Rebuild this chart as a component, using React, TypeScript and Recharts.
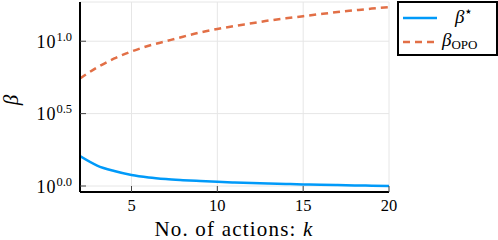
import React from "react";
import { LineChart, Line, XAxis, YAxis, CartesianGrid } from "recharts";

// number of actions k
const actions = [2, 3, 4, 5, 6, 7, 8, 9, 10, 11, 12, 13, 14, 15, 16, 17, 18, 19, 20];
// beta* (blue, solid)
const betaStar = [
  1.61, 1.385, 1.268, 1.19, 1.145, 1.117, 1.098, 1.082, 1.068, 1.057, 1.047,
  1.039, 1.032, 1.026, 1.02, 1.015, 1.01, 1.006, 1.002,
];
// beta_OPO (orange, dashed)
const betaOpo = [
  5.53, 6.6, 7.6, 8.5, 9.3, 10.0, 10.75, 11.5, 12.15, 12.75, 13.3, 13.9, 14.4,
  14.9, 15.4, 15.9, 16.35, 16.8, 17.2,
];
const xTicks = [5, 10, 15, 20];
const yTicks = [1, Math.pow(10, 0.5), 10];

const data = actions.map((k, i) => ({ k, star: betaStar[i], opo: betaOpo[i] }));

const FONT = "'Liberation Serif', 'DejaVu Serif', serif";
const BLUE = "#009af9";
const ORANGE = "#e26f46";

function YTick({ x, y, payload }: any) {
  const exp = Math.log10(payload.value).toFixed(1);
  return (
    <text x={x} y={y + 6.5} textAnchor="end" style={{ fontFamily: FONT, fontSize: 18 }} fill="#000">
      <tspan style={{ fontSize: 18, letterSpacing: 1 }}>10</tspan>
      <tspan style={{ fontSize: 12.5 }} dy={-7}>{exp}</tspan>
    </text>
  );
}

function XTick({ x, y, payload }: any) {
  return (
    <text x={x} y={y + 19} textAnchor="middle" style={{ fontFamily: FONT, fontSize: 16.5 }} fill="#000">
      {payload.value}
    </text>
  );
}

function XLabel() {
  return (
    <text
      x={234}
      y={236}
      textAnchor="middle"
      style={{ fontFamily: FONT, fontSize: 21, letterSpacing: 1.2 }}
      fill="#000"
    >
      No. of actions: <tspan fontStyle="italic">k</tspan>
    </text>
  );
}

function YLabel() {
  return (
    <text
      x={18}
      y={100}
      textAnchor="middle"
      style={{ fontFamily: FONT, fontSize: 21, fontStyle: "italic" }}
      fill="#000"
      transform="rotate(-90 18 100)"
    >
      β
    </text>
  );
}

function LegendBox() {
  return (
    <div
      style={{
        position: "absolute",
        left: 397,
        top: 1,
        width: 97,
        height: 51,
        border: "2px solid #000",
        background: "#fff",
      }}
    >
      <svg width={97} height={51} style={{ display: "block" }}>
        <line x1={4} x2={38} y1={15} y2={15} stroke={BLUE} strokeWidth={2.5} />
        <text x={56} y={20} style={{ fontFamily: FONT, fontSize: 19, fontStyle: "italic" }}>
          β<tspan style={{ fontSize: 14, fontStyle: "normal" }} dy={-7}>⋆</tspan>
        </text>
        <line x1={4} x2={38} y1={39} y2={39} stroke={ORANGE} strokeWidth={2.5} strokeDasharray="7 5" />
        <text x={43} y={43} style={{ fontFamily: FONT, fontSize: 19, fontStyle: "italic" }}>
          β
          <tspan style={{ fontSize: 13, fontStyle: "normal" }} dy={3}>OPO</tspan>
        </text>
      </svg>
    </div>
  );
}

export default function App() {
  return (
    <div style={{ position: "absolute", left: 0, top: 0, width: 498, height: 240, background: "#fff" }}>
      <LineChart
        width={498}
        height={240}
        data={data}
        margin={{ top: 2, right: 109, bottom: 0, left: 20 }}
      >
        <CartesianGrid stroke="#e6e6e6" strokeWidth={1} />
        <XAxis
          dataKey="k"
          type="number"
          domain={[2, 20]}
          ticks={xTicks}
          allowDataOverflow
          height={48}
          axisLine={{ stroke: "#000", strokeWidth: 2 }}
          tickLine={{ stroke: "#444" }}
          tickSize={-6}
          tickMargin={6}
          tick={<XTick />}
          label={<XLabel />}
        />
        <YAxis
          type="number"
          scale="log"
          domain={[Math.pow(10, -0.0414), Math.pow(10, 1.271)]}
          ticks={yTicks}
          allowDataOverflow
          width={60}
          axisLine={{ stroke: "#000", strokeWidth: 2 }}
          tickLine={{ stroke: "#444" }}
          tickSize={-6}
          tickMargin={14}
          tick={<YTick />}
          label={<YLabel />}
        />
        <Line
          type="monotone"
          dataKey="star"
          stroke={BLUE}
          strokeWidth={2.5}
          dot={false}
          isAnimationActive={false}
        />
        <Line
          type="monotone"
          dataKey="opo"
          stroke={ORANGE}
          strokeWidth={2.5}
          strokeDasharray="7 5"
          dot={false}
          isAnimationActive={false}
        />
      </LineChart>
      <LegendBox />
    </div>
  );
}
